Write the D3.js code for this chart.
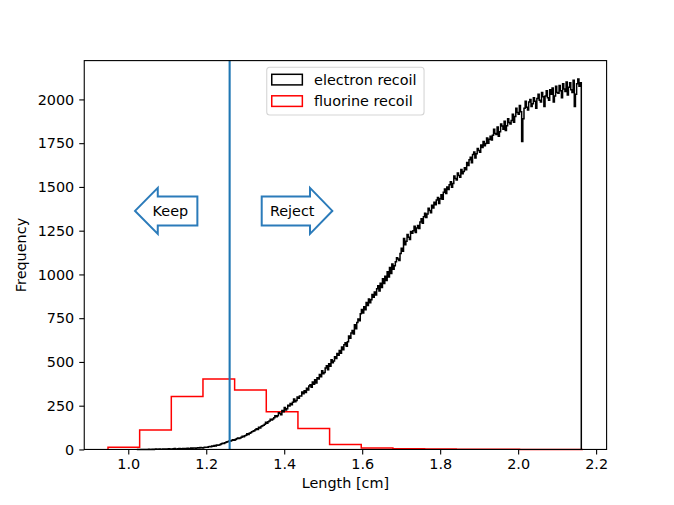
<!DOCTYPE html>
<html>
<head>
<meta charset="utf-8">
<script src="https://cdn.jsdelivr.net/npm/d3@7"></script>
<style>
  body { margin: 0; background: #fff; }
  text { font-family: "DejaVu Sans", sans-serif; }
</style>
<script>

// histogram counts (bins of equal width inside the range)
const electronRange = [1.022, 2.162]
const electronCounts = [
  0, 0, 0, 0, 0, 0, 0, 0, 0, 0, 1, 0, 0, 1, 0, 1, 2, 1, 1, 2,
  1, 1, 2, 3, 2, 2, 3, 4, 2, 1, 3, 4, 5, 3, 2, 4, 6, 4, 3, 5,
  6, 4, 5, 7, 6, 5, 8, 7, 9, 8, 6, 9, 10, 8, 11, 10, 8, 11, 13, 12,
  13, 15, 17, 15, 20, 18, 22, 20, 26, 24, 25, 29, 32, 35, 34, 38, 41, 44, 46, 50,
  48, 53, 55, 52, 57, 61, 66, 62, 65, 70, 76, 72, 78, 81, 90, 86, 92, 96, 101, 104,
  107, 113, 118, 114, 127, 123, 131, 136, 138, 144, 155, 149, 158, 163, 172, 168, 174, 181, 192, 187,
  192, 210, 205, 198, 222, 215, 240, 226, 232, 252, 248, 262, 255, 270, 288, 272, 280, 300, 292, 306,
  305, 328, 318, 335, 325, 350, 340, 362, 370, 355, 385, 372, 398, 380, 410, 402, 428, 415, 450, 432,
  440, 465, 478, 455, 490, 475, 512, 495, 505, 530, 520, 548, 538, 565, 550, 585, 570, 598, 610, 590,
  615, 648, 635, 665, 680, 660, 712, 690, 725, 745, 735, 775, 800, 780, 815, 798, 840, 822, 860, 838,
  855, 885, 870, 900, 882, 918, 935, 905, 950, 925, 975, 948, 990, 965, 1015, 985, 1040, 1005, 1060, 1030,
  1050, 1072, 1095, 1088, 1080, 1120, 1150, 1132, 1205, 1170, 1190, 1228, 1212, 1200, 1245, 1235, 1250, 1275, 1240, 1265,
  1280, 1262, 1300, 1318, 1292, 1330, 1350, 1325, 1345, 1378, 1365, 1352, 1395, 1380, 1412, 1398, 1425, 1440, 1405, 1432,
  1455, 1430, 1470, 1488, 1462, 1500, 1485, 1512, 1530, 1498, 1520, 1562, 1548, 1540, 1580, 1565, 1555, 1600, 1575, 1588,
  1610, 1598, 1640, 1622, 1655, 1670, 1638, 1685, 1700, 1665, 1690, 1720, 1708, 1698, 1740, 1725, 1760, 1735, 1748, 1780,
  1750, 1772, 1790, 1768, 1795, 1830, 1805, 1800, 1842, 1790, 1815, 1860, 1848, 1830, 1875, 1822, 1850, 1890, 1868, 1860,
  1880, 1915, 1870, 1902, 1950, 1925, 1915, 1965, 1930, 1760, 1890, 1950, 1990, 1955, 1940, 1985, 2000, 1960, 1975, 2010,
  1990, 1950, 2005, 2030, 1995, 1985, 2040, 2015, 1960, 2020, 2050, 2010, 1995, 2055, 2030, 2065, 1985, 2020, 2075, 2040,
  2035, 2080, 2050, 2010, 2090, 2060, 2045, 2100, 2025, 2070, 2095, 2055, 2040, 2110, 1960, 2030, 2090, 2116, 2075, 2095
]

const fluorineRange = [0.948, 2.166]
const fluorineCounts = [12, 111, 302, 403, 340, 216, 119, 29, 8, 4, 2, 1, 1, 0, 0]

const cutLength = 1.26
const seriesNames = ['electron recoil', 'fluorine recoil']
const xTicks = [1.0, 1.2, 1.4, 1.6, 1.8, 2.0, 2.2]
const yTicks = [0, 250, 500, 750, 1000, 1250, 1500, 1750, 2000]
const keepPos = { x: 1.108, y: 1363 }
const rejectPos = { x: 1.4205, y: 1363 }

const draw = () => {
  const svg = d3.select('svg')
  const width = +svg.attr('width')
  const height = +svg.attr('height')

  const margin = { top: 60.6, right: 67.4, bottom: 55.55, left: 84.25 }
  const innerWidth = width - margin.left - margin.right
  const innerHeight = height - margin.top - margin.bottom

  const edges = (range, n) => d3.range(n + 1).map(i => range[0] + (range[1] - range[0]) * i / n)
  const electronEdges = edges(electronRange, electronCounts.length)
  const fluorineEdges = edges(fluorineRange, fluorineCounts.length)

  const xMin = d3.min([electronEdges[0], fluorineEdges[0]])
  const xMax = d3.max([electronEdges[electronEdges.length - 1], fluorineEdges[fluorineEdges.length - 1]])
  const xPad = (xMax - xMin) * 0.05
  const yMax = d3.max([...electronCounts, ...fluorineCounts]) * 1.05

  const xScale = d3.scaleLinear().domain([xMin - xPad, xMax + xPad]).range([0, innerWidth])
  const yScale = d3.scaleLinear().domain([0, yMax]).range([innerHeight, 0])

  const g = svg.append('g')
    .attr('transform', `translate(${margin.left}, ${margin.top})`)

  // step outline like histtype='step'
  const stepPoints = (edgeList, counts) => {
    const pts = [[edgeList[0], 0]]
    counts.forEach((c, i) => {
      pts.push([edgeList[i], c])
      pts.push([edgeList[i + 1], c])
    })
    pts.push([edgeList[edgeList.length - 1], 0])
    return pts
  }

  const line = d3.line()
    .x(d => xScale(d[0]))
    .y(d => yScale(d[1]))

  g.append('path')
    .attr('d', line(stepPoints(fluorineEdges, fluorineCounts)))
    .attr('fill', 'none')
    .attr('stroke', '#ff0000')
    .attr('stroke-width', 1.5)

  g.append('path')
    .attr('d', line(stepPoints(electronEdges, electronCounts)))
    .attr('fill', 'none')
    .attr('stroke', '#000000')
    .attr('stroke-width', 1.5)

  g.append('line')
    .attr('x1', xScale(cutLength))
    .attr('x2', xScale(cutLength))
    .attr('y1', 0)
    .attr('y2', innerHeight)
    .attr('stroke', '#1f77b4')
    .attr('stroke-width', 2.1)

  // axes
  const xAxis = d3.axisBottom(xScale)
    .tickValues(xTicks)
    .tickFormat(d3.format('.1f'))
    .tickSize(5)
    .tickPadding(4)
  const yAxis = d3.axisLeft(yScale)
    .tickValues(yTicks)
    .tickFormat(d3.format('d'))
    .tickSize(5)
    .tickPadding(5)

  const xAxisG = g.append('g')
    .attr('transform', `translate(0, ${innerHeight})`)
    .call(xAxis)
  const yAxisG = g.append('g').call(yAxis)

  ;[xAxisG, yAxisG].forEach(a => {
    a.select('.domain').remove()
    a.selectAll('.tick line').attr('stroke', '#000').attr('stroke-width', 1.1)
    a.selectAll('.tick text')
      .attr('fill', '#000')
      .style('font-size', '14.4px')
      .style('font-family', '"DejaVu Sans", sans-serif')
  })

  g.append('rect')
    .attr('width', innerWidth)
    .attr('height', innerHeight)
    .attr('fill', 'none')
    .attr('stroke', '#000')
    .attr('stroke-width', 1.1)

  g.append('text')
    .attr('x', innerWidth / 2)
    .attr('y', innerHeight + 39)
    .attr('text-anchor', 'middle')
    .style('font-size', '14.4px')
    .text('Length [cm]')

  g.append('text')
    .attr('transform', `translate(${-58}, ${innerHeight / 2}) rotate(-90)`)
    .attr('text-anchor', 'middle')
    .style('font-size', '14.4px')
    .text('Frequency')

  // Keep / Reject arrows
  const arrowColor = '#2b7bba'
  const keepX = xScale(keepPos.x)
  const keepY = yScale(keepPos.y)
  g.append('path')
    .attr('d', `M${keepX - 35.3},${keepY} L${keepX - 12.6},${keepY - 23} L${keepX - 12.6},${keepY - 14.5}
      L${keepX + 27},${keepY - 14.5} L${keepX + 27},${keepY + 14.5} L${keepX - 12.6},${keepY + 14.5}
      L${keepX - 12.6},${keepY + 23} Z`)
    .attr('fill', '#fff')
    .attr('stroke', arrowColor)
    .attr('stroke-width', 2)
  g.append('text')
    .attr('x', keepX)
    .attr('y', keepY)
    .attr('dy', '0.36em')
    .attr('text-anchor', 'middle')
    .style('font-size', '14.4px')
    .text('Keep')

  const rejX = xScale(rejectPos.x)
  const rejY = yScale(rejectPos.y)
  g.append('path')
    .attr('d', `M${rejX + 40.1},${rejY} L${rejX + 17.8},${rejY - 23} L${rejX + 17.8},${rejY - 14.5}
      L${rejX - 30.5},${rejY - 14.5} L${rejX - 30.5},${rejY + 14.5} L${rejX + 17.8},${rejY + 14.5}
      L${rejX + 17.8},${rejY + 23} Z`)
    .attr('fill', '#fff')
    .attr('stroke', arrowColor)
    .attr('stroke-width', 2)
  g.append('text')
    .attr('x', rejX)
    .attr('y', rejY)
    .attr('dy', '0.36em')
    .attr('text-anchor', 'middle')
    .style('font-size', '14.4px')
    .text('Reject')

  // legend
  const legend = g.append('g')
    .attr('transform', `translate(${182.5}, ${6.7})`)
  legend.append('rect')
    .attr('width', 157.3)
    .attr('height', 47.7)
    .attr('rx', 3)
    .attr('fill', '#fff')
    .attr('fill-opacity', 0.8)
    .attr('stroke', '#d5d5d5')
    .attr('stroke-width', 1.1)

  const legendColor = d3.scaleOrdinal().domain(seriesNames).range(['#000000', '#ff0000'])
  const item = legend.selectAll('.item')
    .data(seriesNames)
    .enter()
    .append('g')
    .attr('class', 'item')
    .attr('transform', (d, i) => `translate(5, ${7 + i * 21.5})`)
  item.append('rect')
    .attr('width', 30.6)
    .attr('height', 10.6)
    .attr('fill', 'none')
    .attr('stroke', d => legendColor(d))
    .attr('stroke-width', 1.5)
  item.append('text')
    .attr('x', 42.3)
    .attr('y', 5.5)
    .attr('dy', '0.36em')
    .style('font-size', '14.4px')
    .text(d => d)
}

document.addEventListener('DOMContentLoaded', draw)
</script>
</head>
<body>
<svg width="674" height="505"></svg>
</body>
</html>
